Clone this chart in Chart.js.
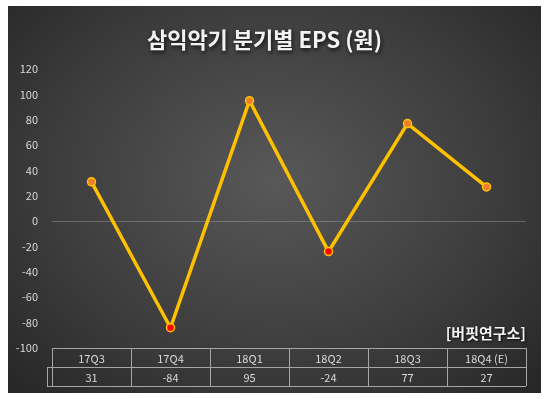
<!DOCTYPE html>
<html>
<head>
<meta charset="utf-8">
<script src="https://cdn.jsdelivr.net/npm/chart.js@4.4.0/dist/chart.umd.min.js"></script>
<style>
    body { margin: 0; background: #ffffff; }
    #box {
        position: absolute;
        left: 8px;
        top: 6px;
        width: 533px;
        height: 387px;
        background: radial-gradient(ellipse at 50% 45%, #585858 0%, #3c3c3c 60%, #262626 100%);
    }
</style>
</head>
<body>
<div id="box"><canvas id="eps-chart" width="533" height="387"></canvas></div>
<script>
// chart data
var quarters = ['17Q3', '17Q4', '18Q1', '18Q2', '18Q3', '18Q4 (E)'];
var eps_values = [31, -84, 95, -24, 77, 27];
var y_min = -100;
var y_max = 120;
var y_step = 20;

var title_text = '삼익악기 분기별 EPS (원)';
var source_text = '[버핏연구소]';

var font_kr = '"Noto Sans CJK KR", "Noto Sans", sans-serif';

// plugin that draws title, source label and data table
var extrasPlugin = {
    id: 'extras',
    afterDraw: function(chart) {
        var ctx = chart.ctx;
        var area = chart.chartArea;
        var x = chart.scales.x;
        var cell_w = (area.right - area.left) / quarters.length;
        var row_h = 19;
        var top = area.bottom;

        ctx.save();
        // title with shadow
        ctx.shadowColor = 'rgba(0, 0, 0, 0.8)';
        ctx.shadowBlur = 4;
        ctx.shadowOffsetX = 1;
        ctx.shadowOffsetY = 2;
        ctx.fillStyle = '#f2f2f2';
        ctx.textAlign = 'center';
        ctx.textBaseline = 'middle';
        ctx.font = 'bold 22px ' + font_kr;
        ctx.fillText(title_text, chart.width / 2 - 10, 34);

        // source label
        ctx.shadowBlur = 2;
        ctx.shadowOffsetX = 1;
        ctx.shadowOffsetY = 1;
        ctx.textAlign = 'right';
        ctx.font = 'bold 15px ' + font_kr;
        ctx.fillText(source_text, area.right, area.bottom - 15);
        ctx.restore();

        // data table
        ctx.save();
        ctx.strokeStyle = '#a6a6a6';
        ctx.lineWidth = 1;
        ctx.beginPath();
        // horizontal lines
        ctx.moveTo(area.left, top + 0.5);
        ctx.lineTo(area.right, top + 0.5);
        ctx.moveTo(area.left - 5, top + row_h + 0.5);
        ctx.lineTo(area.right, top + row_h + 0.5);
        ctx.moveTo(area.left - 5, top + row_h * 2 + 0.5);
        ctx.lineTo(area.right, top + row_h * 2 + 0.5);
        // vertical lines
        ctx.moveTo(area.left - 5 + 0.5, top + row_h);
        ctx.lineTo(area.left - 5 + 0.5, top + row_h * 2);
        for (var i = 0; i <= quarters.length; i++) {
            var lx = Math.round(area.left + i * cell_w) + 0.5;
            ctx.moveTo(lx, top);
            ctx.lineTo(lx, top + row_h * 2);
        }
        ctx.stroke();

        ctx.fillStyle = '#d9d9d9';
        ctx.textAlign = 'center';
        ctx.textBaseline = 'middle';
        ctx.font = '11px ' + font_kr;
        for (var j = 0; j < quarters.length; j++) {
            var cx = x.getPixelForValue(j);
            ctx.fillText(quarters[j], cx, top + row_h / 2 + 1);
            ctx.fillText(String(eps_values[j]), cx, top + row_h * 1.5 + 1);
        }
        ctx.restore();
    }
};

var ctx = document.getElementById('eps-chart').getContext('2d');
var epsChart = new Chart(ctx, {
    type: 'line',
    data: {
        labels: quarters,
        datasets: [{
            label: 'EPS',
            data: eps_values,
            borderColor: '#ffc000',
            borderWidth: 3.5,
            pointRadius: 4,
            pointBorderWidth: 1.5,
            pointBorderColor: '#ffc000',
            pointBackgroundColor: function(c) {
                return c.raw < 0 ? '#ff0000' : '#ed7d31';
            },
            tension: 0
        }]
    },
    options: {
        responsive: false,
        animation: false,
        layout: {
            padding: { top: 63, right: 15, bottom: 37, left: 0 }
        },
        plugins: {
            legend: { display: false },
            tooltip: { enabled: false }
        },
        scales: {
            x: {
                offset: true,
                ticks: { display: false },
                grid: { display: false },
                border: { display: false }
            },
            y: {
                min: y_min,
                max: y_max,
                afterFit: function(axis) { axis.width = 44; },
                ticks: {
                    stepSize: y_step,
                    color: '#d9d9d9',
                    padding: 14,
                    font: { size: 11, family: font_kr }
                },
                grid: {
                    drawTicks: false,
                    color: function(c) {
                        return c.tick && c.tick.value === 0 ? 'rgba(160, 160, 160, 0.45)' : 'rgba(0,0,0,0)';
                    }
                },
                border: { display: false }
            }
        }
    },
    plugins: [extrasPlugin]
});
</script>
</body>
</html>
